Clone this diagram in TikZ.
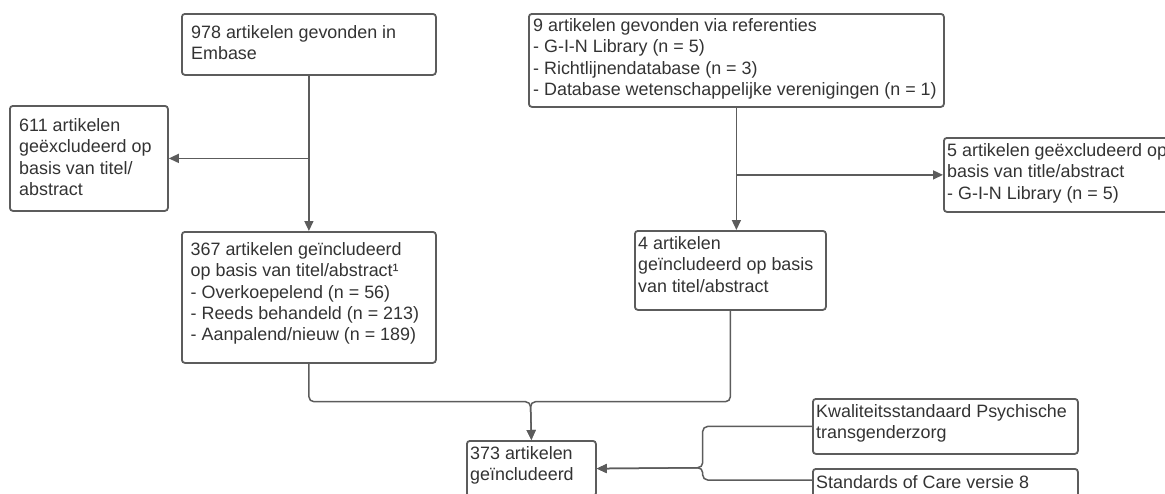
\documentclass[tikz,border=0pt]{standalone}
\usepackage{fontspec}
\setmainfont{Liberation Sans}
\usetikzlibrary{arrows.meta}
\definecolor{txtc}{HTML}{333333}
\definecolor{lnc}{HTML}{5C5C5C}
\begin{document}
\begin{tikzpicture}[x=1pt,y=-1pt,
  box/.style={draw=lnc, line width=1.8pt, rounded corners=3pt, inner sep=0pt, anchor=north west},
  lbl/.style={text=txtc, align=left, inner sep=0pt, anchor=north west, font=\fontsize{17.9}{21.3}\selectfont},
  conn/.style={draw=lnc, line width=1.5pt},
  arr/.style={conn, -{Triangle[length=10pt,width=9pt]}}]
\useasboundingbox (0,0) rectangle (1165,493);
\clip (0,0) rectangle (1165,493);
% boxes
\node[box, minimum width=254pt, minimum height=61pt] (b1) at (181,13) {};
\node[box, minimum width=158pt, minimum height=105pt] (b611) at (9,105) {};
\node[box, minimum width=254pt, minimum height=131pt] (b367) at (181,231) {};
\node[box, minimum width=415pt, minimum height=93pt] (b9) at (528,13) {};
\node[box, minimum width=240pt, minimum height=74pt] (b5) at (943,137) {};
\node[box, minimum width=191pt, minimum height=79pt] (b4) at (634,230) {};
\node[box, minimum width=129pt, minimum height=55.4pt] (b373) at (466,440) {};
\node[box, minimum width=265pt, minimum height=55pt] (kw) at (812,398) {};
\node[box, minimum width=265pt, minimum height=40pt] (sc) at (812,468) {};
% texts
\node[lbl] (t1) at (191,25.5) {978 artikelen gevonden in\\Embase};
\node[lbl] (t611) at (19,118.5) {611 artikelen\\geëxcludeerd op\\basis van titel/\\abstract};
\node[lbl] (t367) at (190.5,242.5) {367 artikelen geïncludeerd\\op basis van titel/abstract¹\\- Overkoepelend (n = 56)\\- Reeds behandeld (n = 213)\\- Aanpalend/nieuw (n = 189)};
\node[lbl] (t9) at (533,18.5) {9 artikelen gevonden via referenties\\- G-I-N Library (n = 5)\\- Richtlijnendatabase (n = 3)\\- Database wetenschappelijke verenigingen (n = 1)};
\node[lbl] (t5) at (947,143.5) {5 artikelen geëxcludeerd op\\basis van title/abstract\\- G-I-N Library (n = 5)};
\node[lbl] (t4) at (638,236.5) {4 artikelen\\geïncludeerd op basis\\van titel/abstract};
\node[lbl] (t373) at (470,446.5) {373 artikelen\\geïncludeerd};
\node[lbl] (tkw) at (816,404.2) {Kwaliteitsstandaard Psychische\\transgenderzorg};
\node[lbl] (tsc) at (816,475.2) {Standards of Care versie 8};
% connectors
\draw[arr] (b1.south) -- (b367.north);
\coordinate (j1) at (b1.south |- b611.east);
\draw[arr] (j1) -- (b611.east);
\coordinate (b4in) at (b9.south |- b4.north);
\draw[arr] (b9.south) -- (b4in);
\coordinate (j2) at (b9.south |- b5.west);
\draw[arr] (j2) -- (b5.west);
\coordinate (m) at (530.5,401.7);
\draw[arr, rounded corners=5pt] (b367.south) |- (m) -- (b373.north);
\draw[arr, rounded corners=5pt] (b4.south) |- (m) -- (b373.north);
\coordinate (j3) at (702.7,467.7);
\coordinate (scw) at ([shift={(0,12)}]sc.north west);
\draw[arr, rounded corners=5pt] (kw.west) -| (j3) -- (b373.east);
\draw[arr, rounded corners=5pt] (scw) -| (j3) -- (b373.east);
\end{tikzpicture}
\end{document}
